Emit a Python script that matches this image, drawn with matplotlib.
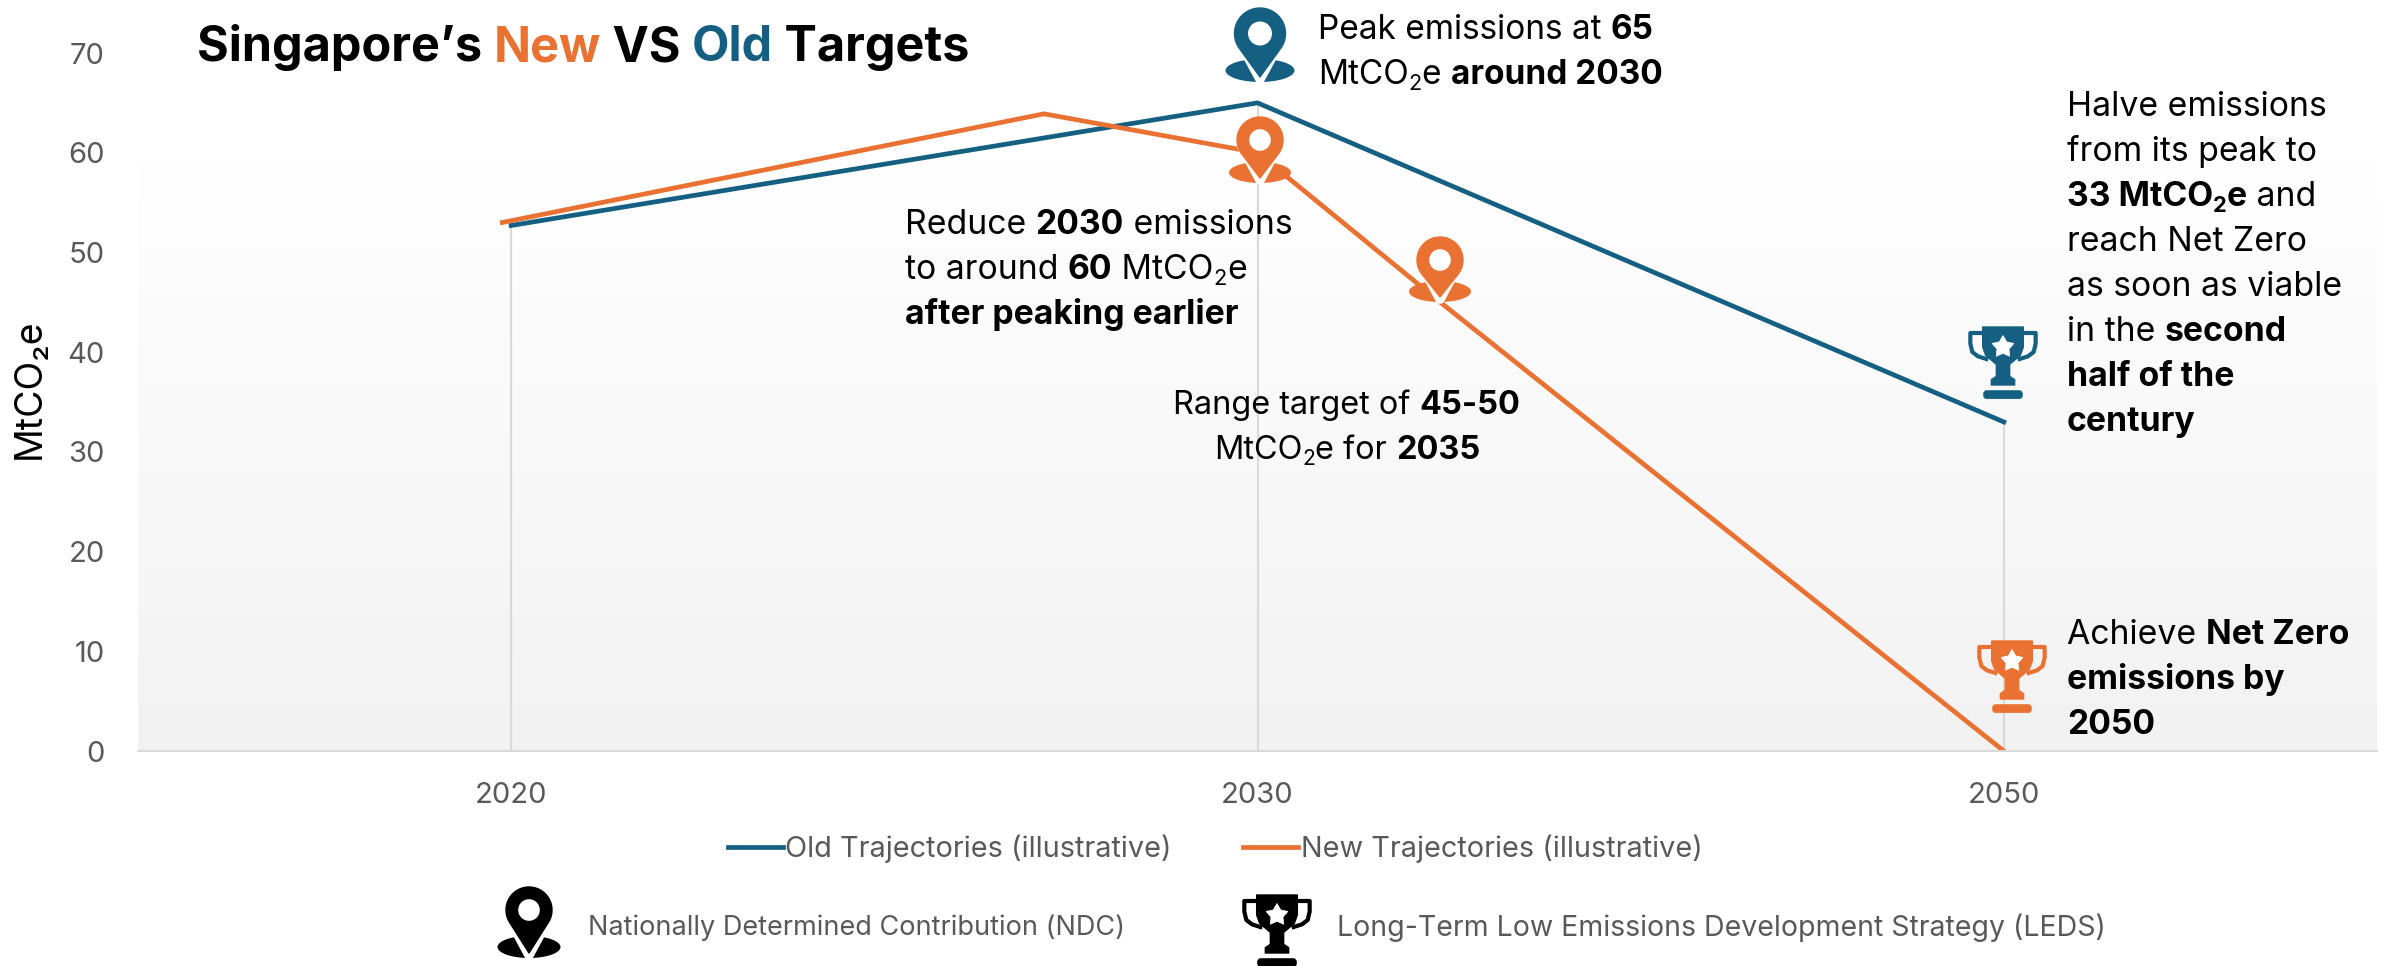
import numpy as np
import matplotlib
matplotlib.use('Agg')
import matplotlib.pyplot as plt
from matplotlib.colors import LinearSegmentedColormap
from matplotlib.patches import Ellipse, Polygon, Circle, FancyBboxPatch

plt.rcParams['font.family'] = ['Inter', 'DejaVu Sans']

BLUE = '#156082'
ORANGE = '#E97132'
GRAY = '#595959'
W, H = 2390, 966

categories = ['2020', '2030', '2050']
y_ticks = [0, 10, 20, 30, 40, 50, 60, 70]

old_x = [0, 1, 2]
old_values = [52.7, 65, 33]
# new path has two points that sit between the categories
new_x = [-0.012, 0.714, 1, 1.245, 2]
new_values = [53, 63.9, 60, 45, 0]
drop_values = [53, 65, 33]


def text_width(s, size, weight):
    # the dot stops trailing spaces from being dropped
    t = fig.text(0, 0, s + '.', fontsize=size, fontweight=weight)
    d = fig.text(0, 0, '.', fontsize=size, fontweight=weight)
    w = t.get_window_extent(renderer).width - d.get_window_extent(renderer).width
    t.remove()
    d.remove()
    return w


def rich(x, y, runs, size=24.3, ha='left'):
    # runs are (text, style) or (text, style, color); style: '', 'b' bold, 's' sub, 'bs' bold sub
    sizes = [size * 0.65 if 's' in r[1] else size for r in runs]
    weights = ['bold' if 'b' in r[1] else 'normal' for r in runs]
    widths = [text_width(r[0], sz, wt) for r, sz, wt in zip(runs, sizes, weights)]
    if ha == 'center':
        x -= sum(widths) / 2
    for r, sz, wt, w in zip(runs, sizes, weights, widths):
        color = r[2] if len(r) > 2 else 'black'
        dy = 6 if 's' in r[1] else 0
        over.text(x, y + dy, r[0], fontsize=sz, fontweight=wt, color=color, va='baseline', ha='left', zorder=6)
        x += w


def pin(cx, top, bottom, head_w, base_w, base_h, color):
    over.add_patch(Ellipse((cx, bottom - base_h / 2), base_w, base_h, color=color, lw=0, zorder=4))
    r = head_w / 2
    cy = top + r
    tip = bottom - 5
    d = tip - cy
    theta = np.arccos(r / d)
    phi = np.linspace(theta, 2 * np.pi - theta, 60)
    pts = np.column_stack([cx + r * np.sin(phi), cy + r * np.cos(phi)])
    pts = np.vstack([pts, [cx, tip]])
    # white v where the pin crosses the base
    over.plot([cx - r * 0.72, cx, cx + r * 0.72], [tip - r * 1.25, tip + 2, tip - r * 1.25],
              color='white', lw=7, solid_joinstyle='round', zorder=4.5)
    over.add_patch(Polygon(pts, closed=True, fc=color, ec=color, lw=1, joinstyle='round', zorder=5))
    over.add_patch(Circle((cx, cy), r * 0.47, color='white', lw=0, zorder=5.5))


def star(cx, cy, r):
    ang = np.pi / 2 + np.arange(10) * np.pi / 5
    rad = np.where(np.arange(10) % 2 == 0, r, r * 0.55)
    return np.column_stack([cx + rad * np.cos(ang), cy - rad * np.sin(ang)])


def trophy(cx, top, color):
    s = 1 / 3
    def p(u, v):
        return (cx + u * s, top + v * s)
    # handles
    u = np.array([61, 98, 98, 92, 75, 50])
    v = np.array([18, 18, 50, 75, 88, 96])
    for sign in (1, -1):
        over.plot(cx + sign * u * s, top + v * s, color=color, lw=3, solid_joinstyle='round', zorder=5)
    cup = [(-61, 0), (61, 0), (61, 60), (52, 85), (20, 112), (20, 148), (35, 158), (35, 174),
           (-35, 174), (-35, 158), (-20, 148), (-20, 112), (-52, 85), (-61, 60)]
    over.add_patch(Polygon([p(a, b) for a, b in cup], closed=True, fc=color, ec=color, lw=1, joinstyle='round', zorder=5))
    over.add_patch(FancyBboxPatch(p(-58, 191), 116 * s, 24 * s, boxstyle='round,pad=0,rounding_size=3',
                                  fc=color, ec=color, lw=0.5, zorder=5))
    over.add_patch(Polygon(star(cx, top + 60 * s, 11.5), closed=True, fc='white', ec='white', lw=0.5, zorder=5.5))


fig = plt.figure(figsize=(W / 100, H / 100), dpi=100)
renderer = fig.canvas.get_renderer()
ax = fig.add_axes([138 / W, 1 - 751 / H, (2377 - 138) / W, (751 - 53) / H])
over = fig.add_axes([0, 0, 1, 1], zorder=3)
over.set_xlim(0, W)
over.set_ylim(H, 0)
over.axis('off')

cmap = LinearSegmentedColormap.from_list('bg', ['#FFFFFF', '#F2F2F2'])
ax.imshow(np.linspace(0, 1, 64).reshape(-1, 1), cmap=cmap, aspect='auto', extent=[-0.5, 2.5, 0, 60],
          vmin=0, vmax=1, zorder=0, interpolation='nearest')
ax.vlines(old_x, 0, drop_values, color='#D9D9D9', lw=1.5, zorder=1)
ax.plot(old_x, old_values, color=BLUE, lw=3.4, label='Old Trajectories (illustrative)', zorder=2, solid_joinstyle='miter')
ax.plot(new_x, new_values, color=ORANGE, lw=3.4, label='New Trajectories (illustrative)', zorder=2.5, solid_joinstyle='miter')

ax.set_xlim(-0.5, 2.5)
ax.set_ylim(0, 70)
ax.set_xticks(old_x, categories)
ax.set_yticks(y_ticks)
ax.tick_params(length=0, labelsize=21, labelcolor=GRAY)
ax.tick_params(axis='y', pad=24)
ax.tick_params(axis='x', pad=22)
for side in ['top', 'right', 'left']:
    ax.spines[side].set_visible(False)
ax.spines['bottom'].set_color('#D9D9D9')
ax.spines['bottom'].set_linewidth(1.5)
ax.patch.set_alpha(0)

ax.set_ylabel('MtCO₂e', fontsize=27, color='black')
ax.yaxis.set_label_coords((48 - 138) / (2377 - 138), (751 - 389) / (751 - 53))

fig.legend(*ax.get_legend_handles_labels(), loc='center', bbox_to_anchor=(1215 / W, 1 - 849 / H), ncol=2,
           frameon=False, fontsize=20.8, labelcolor=GRAY, handlelength=1.9, handletextpad=0.1, columnspacing=2.45)

# title
rich(197, 61, [("Singapore’s ", 'b'), ('New', 'b', ORANGE), (' VS ', 'b'), ('Old', 'b', BLUE), (' Targets', 'b')], size=35)

# annotations
rich(1318, 39, [('Peak emissions at ', ''), ('65', 'b')], size=24)
rich(1318, 84, [('MtCO', ''), ('2', 's'), ('e ', ''), ('around 2030', 'b')], size=24)
rich(905, 234, [('Reduce ', ''), ('2030', 'b'), (' emissions', '')])
rich(905, 279, [('to around ', ''), ('60', 'b'), (' MtCO', ''), ('2', 's'), ('e', '')])
rich(905, 324, [('after peaking earlier', 'b')])
rich(1347, 414, [('Range target of ', ''), ('45-50', 'b')], size=23.4, ha='center')
rich(1347, 459, [('MtCO', ''), ('2', 's'), ('e for ', ''), ('2035', 'b')], size=23.4, ha='center')
rich(2067, 116, [('Halve emissions', '')])
rich(2067, 161, [('from its peak to', '')])
rich(2067, 206, [('33 MtCO', 'b'), ('2', 'bs'), ('e', 'b'), (' and', '')])
rich(2067, 251, [('reach Net Zero', '')])
rich(2067, 296, [('as soon as viable', '')])
rich(2067, 341, [('in the ', ''), ('second', 'b')])
rich(2067, 386, [('half of the', 'b')])
rich(2067, 431, [('century', 'b')])
rich(2067, 644, [('Achieve ', ''), ('Net Zero', 'b')])
rich(2067, 689, [('emissions by', 'b')])
rich(2067, 734, [('2050', 'b')])

# icons
pin(1260, 8, 82, 51, 69, 23, BLUE)
pin(1260, 117, 183, 46, 62, 21, ORANGE)
pin(1440, 237, 302, 46, 62, 21, ORANGE)
trophy(2003, 327, BLUE)
trophy(2012, 641, ORANGE)
pin(529, 887, 958, 46, 63, 22, 'black')
trophy(1277, 895, 'black')

# icon key
over.text(588, 928, 'Nationally Determined Contribution (NDC)', fontsize=19.5, color=GRAY, va='center')
over.text(1337, 928, 'Long-Term Low Emissions Development Strategy (LEDS)', fontsize=20.5, color=GRAY, va='center')

fig.savefig('out.png', dpi=100)
